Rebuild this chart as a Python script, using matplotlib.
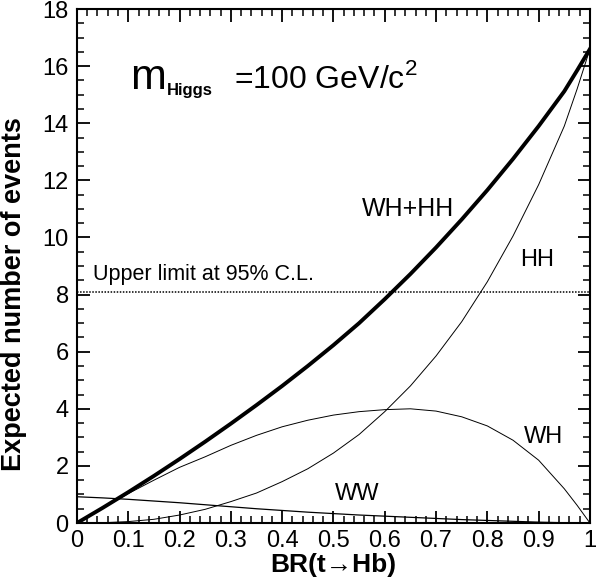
import matplotlib
matplotlib.use("Agg")
import matplotlib.pyplot as plt
from matplotlib.ticker import MultipleLocator
import numpy as np

plt.rcParams['font.family'] = ['Liberation Sans', 'DejaVu Sans']
plt.rcParams['mathtext.fontset'] = 'custom'
plt.rcParams['mathtext.rm'] = 'Liberation Sans'
plt.rcParams['mathtext.bf'] = 'Liberation Sans:bold'

# values
br = [0.0, 0.05, 0.1, 0.15, 0.2, 0.25, 0.3, 0.35, 0.4, 0.45, 0.5,
      0.55, 0.6, 0.65, 0.7, 0.75, 0.8, 0.85, 0.9, 0.95, 0.975, 1.0]
wh_hh = [0.0, 0.53, 1.08, 1.65, 2.24, 2.85, 3.48, 4.13, 4.8, 5.5, 6.23,
         7.0, 7.84, 8.72, 9.65, 10.63, 11.66, 12.75, 13.9, 15.12, 15.85, 16.6]
wh = [0.0, 0.52, 1.03, 1.5, 1.95, 2.32, 2.72, 3.07, 3.37, 3.6, 3.78,
      3.9, 3.97, 4.0, 3.92, 3.72, 3.4, 2.9, 2.2, 1.2, 0.62, 0.0]
hh = [0.0, 0.01, 0.05, 0.13, 0.28, 0.48, 0.75, 1.05, 1.45, 1.9, 2.45,
      3.1, 3.9, 4.8, 5.85, 7.05, 8.45, 10.05, 11.85, 13.9, 15.2, 16.6]
ww = [0.92, 0.88, 0.83, 0.77, 0.71, 0.64, 0.57, 0.5, 0.44, 0.38, 0.33,
      0.28, 0.24, 0.2, 0.16, 0.12, 0.09, 0.06, 0.03, 0.01, 0.005, 0.0]
upper_limit = 8.1

fig = plt.figure(figsize=(6.06, 5.87), dpi=100)
ax = fig.add_axes([0.127, 0.109, 0.8465, 0.8756])

ax.plot(br, wh_hh, color='black', lw=2.8)
ax.plot(br, wh, color='black', lw=0.7)
ax.plot(br, hh, color='black', lw=0.7)
ax.plot(br, ww, color='black', lw=0.9)
ax.axhline(upper_limit, color='black', lw=1.1, ls=(0, (1, 1)))

ax.set_xlim(0, 1)
ax.set_ylim(0, 18)
ax.xaxis.set_minor_locator(MultipleLocator(0.02))
ax.yaxis.set_major_locator(MultipleLocator(2))
ax.yaxis.set_minor_locator(MultipleLocator(0.5))
ax.set_xticks(np.arange(0, 1.01, 0.1))
ax.set_xticklabels(['0', '0.1', '0.2', '0.3', '0.4', '0.5', '0.6', '0.7', '0.8', '0.9', '1'])
ax.tick_params(which='both', direction='in', top=True, right=True, labelsize=17)
ax.tick_params(axis='x', pad=5)
ax.tick_params(axis='y', pad=6)
ax.tick_params(which='major', length=9, width=1.3)
ax.tick_params(which='minor', length=5, width=1.1)
for s in ax.spines.values():
    s.set_linewidth(1.5)

ax.set_xlabel('BR(t→Hb)', fontsize=19, fontweight='bold', labelpad=1)
ax.set_ylabel('Expected number of events', fontsize=19.5, fontweight='bold')
ax.yaxis.set_label_coords(-0.098, 0.445)

ax.text(0.104, 15.2, 'm', fontsize=31, va='baseline')
ax.text(0.175, 15.0, 'Higgs', fontsize=12, fontweight='bold', va='baseline')
ax.text(0.307, 15.25, '=100 GeV/c$^{2}$', fontsize=23, va='baseline')
ax.text(0.032, 8.7, 'Upper limit at 95% C.L.', fontsize=15.5, va='center')
ax.text(0.555, 11.0, 'WH+HH', fontsize=18, va='center')
ax.text(0.863, 9.2, 'HH', fontsize=17, va='center')
ax.text(0.871, 3.0, 'WH', fontsize=17, va='center')
ax.text(0.502, 1.0, 'WW', fontsize=17, va='center')

fig.savefig('out.png', dpi=100)
